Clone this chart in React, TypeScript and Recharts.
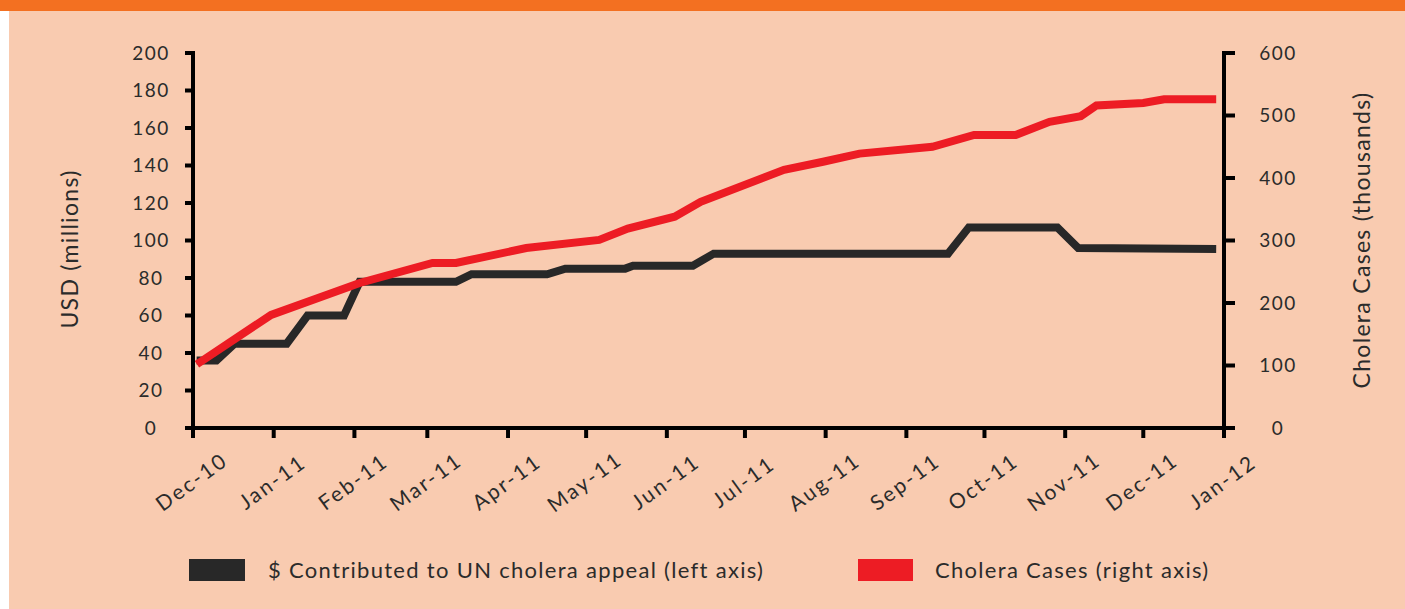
import React from "react";
import { LineChart, Line, XAxis, YAxis } from "recharts";

// days counted from 1 Dec 2010
const monthDays = [0, 31, 62, 90, 121, 151, 182, 212, 243, 274, 304, 335, 365, 396];
const monthLabels = [
  "Dec-10", "Jan-11", "Feb-11", "Mar-11", "Apr-11", "May-11", "Jun-11",
  "Jul-11", "Aug-11", "Sep-11", "Oct-11", "Nov-11", "Dec-11", "Jan-12",
];

const usdTicks = [0, 20, 40, 60, 80, 100, 120, 140, 160, 180, 200];
const caseTicks = [0, 100, 200, 300, 400, 500, 600];

// $ contributed to UN cholera appeal (USD millions)
const fundingDays = [1.4, 9, 16, 36, 44, 58, 64, 101, 107, 136, 143, 166, 169, 192, 200, 290, 298, 332, 340, 393];
const fundingValues = [36, 36, 45, 45, 60, 60, 78, 78, 82, 82, 85, 85, 86.5, 86.5, 93, 93, 107, 107, 96, 95.5];

// cholera cases (thousands)
const casesDays = [1.5, 30, 64, 92, 101, 128, 156, 167, 185, 195, 227, 242, 256, 284, 300, 316, 329, 341, 347, 365, 373, 393];
const casesValues = [102, 181, 232, 264, 264, 288, 301, 319, 338, 362, 413, 426, 439, 450, 469, 469, 490, 499, 516, 520, 526, 526];

const fundingData = fundingDays.map((day, i) => ({ day, usd: fundingValues[i] }));
const casesData = casesDays.map((day, i) => ({ day, cases: casesValues[i] }));

const textColor = "#2b2b2b";
const font = "Lato, sans-serif";

function MonthTick(props: any) {
  const { x, y, payload } = props;
  const label = monthLabels[monthDays.indexOf(payload.value)];
  return (
    <text
      x={0}
      y={0}
      textAnchor="middle"
      dominantBaseline="central"
      transform={`translate(${x - 2},${y + 41}) rotate(-36)`}
      fill={textColor}
      fontFamily={font}
      fontSize={21}
      letterSpacing={2.3}
    >
      {label}
    </text>
  );
}

function AxisTitle(props: any) {
  const { cx, cy, value } = props;
  return (
    <text
      x={0}
      y={0}
      textAnchor="middle"
      dominantBaseline="central"
      transform={`translate(${cx},${cy}) rotate(-90)`}
      fill={textColor}
      fontFamily={font}
      fontSize={23}
      letterSpacing={1.3}
    >
      {value}
    </text>
  );
}

export default function App() {
  return (
    <div style={{ position: "relative", width: 1405, height: 609, background: "#fff", overflow: "hidden" }}>
      <style>{"body{margin:0}"}</style>
      <div style={{ position: "absolute", left: 0, top: 0, width: 1405, height: 11, background: "#F37021" }} />
      <div style={{ position: "absolute", left: 9, top: 11, width: 1396, height: 598, background: "#F9CBB0" }} />

      <div style={{ position: "absolute", left: 0, top: 0 }}>
        <LineChart
          width={1405}
          height={609}
          margin={{ top: 53, right: 31, bottom: 101, left: 73 }}
        >
          <XAxis
            dataKey="day"
            type="number"
            domain={[0, 396]}
            ticks={monthDays}
            interval={0}
            height={80}
            allowDataOverflow
            axisLine={{ stroke: "#000", strokeWidth: 4, strokeLinecap: "square" }}
            tickLine={{ stroke: "#000", strokeWidth: 4 }}
            tickSize={10}
            tickMargin={2}
            tick={<MonthTick />}
          />
          <YAxis
            yAxisId="left"
            domain={[0, 200]}
            ticks={usdTicks}
            interval={0}
            width={120}
            axisLine={{ stroke: "#000", strokeWidth: 4, strokeLinecap: "square" }}
            tickLine={{ stroke: "#000", strokeWidth: 4 }}
            tickSize={8}
            tickMargin={34}
            tick={{ fill: textColor, fontFamily: font, fontSize: 19, letterSpacing: 1.5, textAnchor: "middle" }}
            label={<AxisTitle cx={69} cy={249} value="USD (millions)" />}
          />
          <YAxis
            yAxisId="right"
            orientation="right"
            domain={[0, 600]}
            ticks={caseTicks}
            interval={0}
            width={150}
            axisLine={{ stroke: "#000", strokeWidth: 4, strokeLinecap: "square" }}
            tickLine={{ stroke: "#000", strokeWidth: 4 }}
            tickSize={11}
            tickMargin={43}
            tick={{ fill: textColor, fontFamily: font, fontSize: 19, letterSpacing: 1.5, textAnchor: "middle" }}
            label={<AxisTitle cx={1361} cy={240} value="Cholera Cases (thousands)" />}
          />
          <Line
            yAxisId="left"
            data={fundingData}
            dataKey="usd"
            type="linear"
            stroke="#282828"
            strokeWidth={8}
            dot={false}
            isAnimationActive={false}
          />
          <Line
            yAxisId="right"
            data={casesData}
            dataKey="cases"
            type="linear"
            stroke="#ED1C24"
            strokeWidth={8}
            dot={false}
            isAnimationActive={false}
          />
        </LineChart>
      </div>

      <div style={{ position: "absolute", left: 189, top: 559, width: 56, height: 22, background: "#282828" }} />
      <div style={{ position: "absolute", left: 268, top: 556, lineHeight: "28px", fontFamily: font, fontSize: 22, letterSpacing: 1.3, color: textColor, whiteSpace: "nowrap" }}>
        $ Contributed to UN cholera appeal (left axis)
      </div>
      <div style={{ position: "absolute", left: 858, top: 559, width: 55, height: 22, background: "#ED1C24" }} />
      <div style={{ position: "absolute", left: 935, top: 556, lineHeight: "28px", fontFamily: font, fontSize: 22, letterSpacing: 1.3, color: textColor, whiteSpace: "nowrap" }}>
        Cholera Cases (right axis)
      </div>
    </div>
  );
}
